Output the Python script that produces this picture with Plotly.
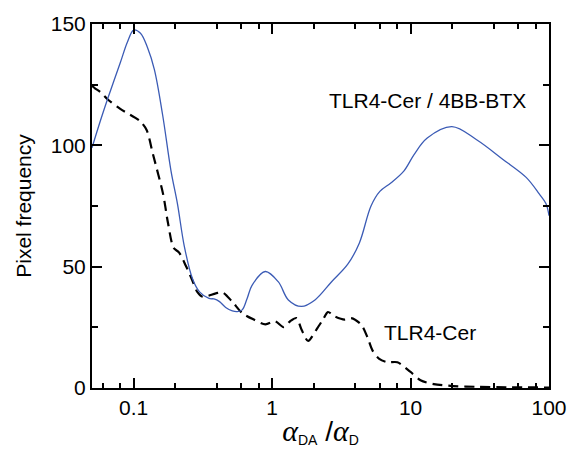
import math
import plotly.graph_objects as go

# Blue solid curve: TLR4-Cer / 4BB-BTX
blue_x = [0.05, 0.0574, 0.0647, 0.08, 0.09, 0.1, 0.112, 0.126, 0.141, 0.162, 0.186, 0.207,
          0.232, 0.266, 0.299, 0.35, 0.38, 0.417, 0.462, 0.516, 0.56, 0.608, 0.66, 0.716,
          0.893, 1.11, 1.31, 1.63, 2.04, 2.68, 3.52, 4.27, 5.18, 6.0, 7.2, 8.97, 10.6,
          13.2, 19.9, 30, 46.5, 68.4, 85, 95, 100]
blue_y = [99, 110, 119, 134, 142.5, 147.5, 146.2, 140.2, 131.3, 112.4, 89.5, 76,
          58.5, 45, 39.6, 36.9, 36.7, 35.6, 33.2, 31.8, 31.5, 32.2, 36.9, 42.3,
          48, 43.7, 36.3, 33.6, 36.3, 43.7, 51, 59.8, 75, 81, 84.5, 89.5, 96.2,
          103, 107.7, 102.3, 94.2, 86.8, 80, 76, 71]

# Black dashed curve: TLR4-Cer
black_x = [0.05, 0.0525, 0.0574, 0.0647, 0.08, 0.111, 0.124, 0.138, 0.163, 0.177, 0.194,
           0.213, 0.238, 0.265, 0.288, 0.315, 0.392, 0.438, 0.515, 0.608, 0.737, 0.894,
           1.05, 1.21, 1.35, 1.50, 1.63, 1.82, 2.09, 2.33, 2.53, 2.83, 3.34, 3.73, 4.39,
           4.9, 5.32, 5.94, 6.81, 8.03, 10, 11.8, 14.7, 20.4, 30, 50, 100]
black_y = [124.5, 123.5, 122, 119, 115, 110, 106.3, 96.2, 80, 68, 57.8,
           55.8, 50.4, 44.4, 39.6, 37.6, 39, 39.4, 35.6, 30.9, 28.2, 26.2,
           27.5, 25.1, 27.5, 28.8, 24.1, 19.4, 24.1, 28.2, 31.3, 29.5, 28.2, 28.8, 26.2,
           20.7, 15.4, 12, 10.6, 10.6, 6.6, 3.2, 1.6, 0.8, 0.5, 0.3, 0.2]

x_ticks = [0.1, 1, 10, 100]
x_ticktext = ["0.1", "1", "10", "100"]
x_minor = [0.06, 0.08, 0.2, 0.4, 0.6, 0.8, 2, 4, 6, 8, 20, 40, 60, 80]
y_ticks = [0, 50, 100, 150]

label_upper = "TLR4-Cer / 4BB-BTX"
label_lower = "TLR4-Cer"

FONT = "Liberation Sans, Arial, sans-serif"

fig = go.Figure()
fig.add_trace(go.Scatter(x=black_x, y=black_y, mode="lines",
                         line=dict(color="black", width=2.2, dash="10px,6px", shape="spline", smoothing=0.8),
                         showlegend=False, hoverinfo="skip"))
fig.add_trace(go.Scatter(x=blue_x, y=blue_y, mode="lines",
                         line=dict(color="#3b5bb5", width=1.3, shape="spline", smoothing=1.0),
                         showlegend=False, hoverinfo="skip"))

fig.add_annotation(x=math.log10(13.3), y=118.6, text=label_upper, showarrow=False,
                   font=dict(family=FONT, size=21, color="black"), xanchor="center", yanchor="middle")
fig.add_annotation(x=math.log10(13.8), y=23.0, text=label_lower, showarrow=False,
                   font=dict(family=FONT, size=21, color="black"), xanchor="center", yanchor="middle")

alpha = '<span style="font-family:Liberation Serif;font-size:30px"><i>α</i></span>'
xtitle = (alpha + '<sub><span style="font-size:14px">DA</span></sub>'
          + '<span style="font-size:28px"> /</span>'
          + alpha + '<sub><span style="font-size:14px">D</span></sub>')

fig.update_layout(
    width=579, height=457,
    margin=dict(l=92, r=26, t=17, b=69),
    paper_bgcolor="white", plot_bgcolor="white",
    font=dict(family=FONT, size=21, color="black"),
    xaxis=dict(type="log", range=[math.log10(0.05), 2],
               tickmode="array", tickvals=x_ticks, ticktext=x_ticktext,
               ticks="inside", ticklen=10, tickwidth=1.5, tickcolor="black",
               minor=dict(tickmode="array", tickvals=x_minor, ticks="inside", ticklen=5,
                          tickwidth=1.5, tickcolor="black", showgrid=False),
               showline=True, linecolor="black", linewidth=2, mirror="allticks",
               showgrid=False, zeroline=False,
               title=dict(text=xtitle, standoff=8, font=dict(size=21))),
    yaxis=dict(range=[0, 150], tickmode="array", tickvals=y_ticks,
               ticks="inside", ticklen=10, tickwidth=1.5, tickcolor="black",
               minor=dict(dtick=25, ticks="inside", ticklen=6, tickwidth=1.5,
                          tickcolor="black", showgrid=False),
               showline=True, linecolor="black", linewidth=2, mirror="allticks",
               showgrid=False, zeroline=False,
               title=dict(text="Pixel frequency", standoff=13, font=dict(size=21))),
)

fig.write_html("out.html")
